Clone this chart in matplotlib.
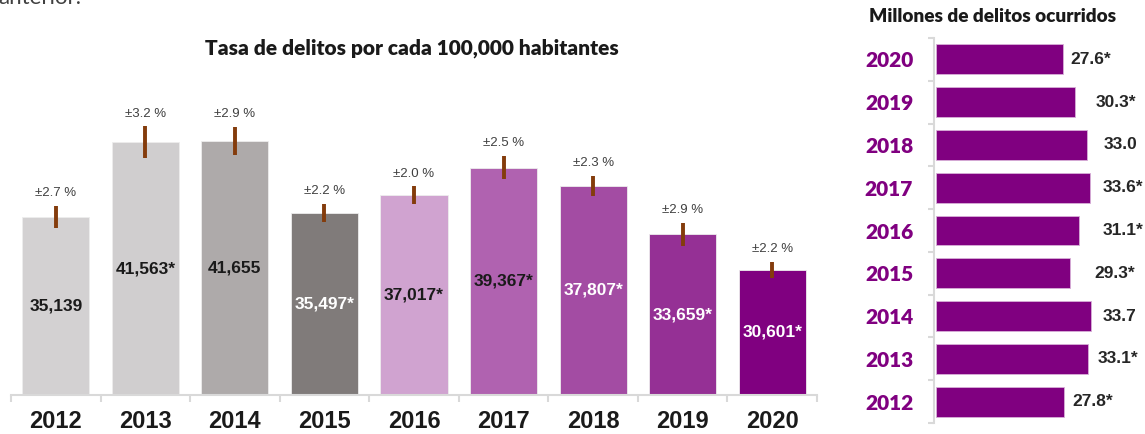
import matplotlib
matplotlib.use('Agg')
import matplotlib.pyplot as plt
import numpy as np

years = ['2012', '2013', '2014', '2015', '2016', '2017', '2018', '2019', '2020']
tasa = [35139, 41563, 41655, 35497, 37017, 39367, 37807, 33659, 30601]
tasa_labels = ['35,139', '41,563*', '41,655', '35,497*', '37,017*', '39,367*', '37,807*', '33,659*', '30,601*']
error_pct = [2.7, 3.2, 2.9, 2.2, 2.0, 2.5, 2.3, 2.9, 2.2]
millones = [27.8, 33.1, 33.7, 29.3, 31.1, 33.6, 33.0, 30.3, 27.6]
millones_labels = ['27.8*', '33.1*', '33.7', '29.3*', '31.1*', '33.6*', '33.0', '30.3*', '27.6*']

bar_colors = ['#D3D1D2', '#D0CECF', '#AEAAAA', '#807B7A', '#D0A3D0', '#B062B0', '#A34CA3', '#953095', '#800080']
text_colors = ['#1A1A1A', '#1A1A1A', '#1A1A1A', '#FFFFFF', '#1A1A1A', '#1A1A1A', '#FFFFFF', '#FFFFFF', '#FFFFFF']
label_pad_px = [9, 10, 12, 24, 24, 12, 16, 21, 8]

ARIAL = ['Liberation Sans', 'DejaVu Sans']
CAL = ['Lato', 'DejaVu Sans']

W, H = 1145, 434
fig = plt.figure(figsize=(W / 100, H / 100), dpi=100)


def fr(x0, y0, x1, y1):
    return [x0 / W, 1 - y1 / H, (x1 - x0) / W, (y1 - y0) / H]


# ---------- left chart ----------
ax = fig.add_axes(fr(11, 100, 817, 395))
px_per_unit = 0.011675
ymin = 19893
ax.set_ylim(ymin, ymin + 295 / px_per_unit)
ax.set_xlim(-0.5, 8.5)
x = np.arange(len(years))
ax.bar(x, tasa, width=0.75, color=bar_colors, edgecolor='#EDEDED', linewidth=0.6)
err = np.array(tasa) * np.array(error_pct) / 100
ax.errorbar(x, tasa, yerr=err, fmt='none', ecolor='#843C0C', elinewidth=2.8, capsize=0)
for xi, v, e, p, lbl, tc in zip(x, tasa, err, error_pct, tasa_labels, text_colors):
    ax.annotate(f'±{p:.1f} %', (xi, v + e), xytext=(0, 7), textcoords='offset points',
                ha='center', va='baseline', fontsize=9.5, color='#404040', family=ARIAL)
    ax.text(xi, (v + ymin) / 2, lbl, ha='center', va='center', fontsize=12.5,
            weight='bold', color=tc, family=ARIAL)

for s in ['top', 'right', 'left']:
    ax.spines[s].set_visible(False)
ax.spines['bottom'].set_color('#D9D9D9')
ax.spines['bottom'].set_linewidth(1.5)
ax.set_yticks([])
ax.set_xticks(x)
ax.set_xticklabels(years, fontsize=17, weight='bold', color='#1A1A1A', family=ARIAL)
ax.set_xticks(np.arange(-0.5, 9, 1), minor=True)
ax.tick_params(axis='x', which='major', length=0, pad=11)
ax.tick_params(axis='x', which='minor', length=5, width=1.5, color='#D9D9D9', direction='out')

# ---------- right chart ----------
ax2 = fig.add_axes(fr(934, 38, 1140, 423))
scale = 4.59
x0 = -2 / scale
ax2.set_xlim(x0, x0 + 206 / scale)
ax2.set_ylim(-0.5, 8.5)
yy = np.arange(len(years))
ax2.barh(yy, millones, height=0.7, color='#800080', edgecolor='#D8B0D8', linewidth=0.6)
for yi, v, lbl, pad in zip(yy, millones, millones_labels, label_pad_px):
    ax2.annotate(lbl, (v, yi), xytext=(pad * 0.72, 0), textcoords='offset points',
                 ha='left', va='center', fontsize=12.5, weight='bold', color='#262626',
                 family=ARIAL, annotation_clip=False)
for s in ['top', 'right', 'bottom']:
    ax2.spines[s].set_visible(False)
ax2.spines['left'].set_color('#D9D9D9')
ax2.spines['left'].set_linewidth(1.5)
ax2.set_xticks([])
ax2.set_yticks(yy)
ax2.set_yticklabels(years, fontsize=15, weight='heavy', color='#800080', family=CAL)
ax2.set_yticks(np.arange(-0.5, 9, 1), minor=True)
ax2.tick_params(axis='y', which='major', length=0, pad=15)
ax2.tick_params(axis='y', which='minor', length=4.5, width=1.5, color='#D9D9D9', direction='out')

# ---------- titles ----------
fig.text(411.5 / W, 1 - 48 / H, 'Tasa de delitos por cada 100,000 habitantes', ha='center',
         va='center', fontsize=15, weight='heavy', color='#1A1A1A', family=CAL)
fig.text(993 / W, 1 - 16 / H, 'Millones de delitos ocurridos', ha='center', va='center',
         fontsize=13.7, weight='heavy', color='#1A1A1A', family=CAL)
fig.text(-2 / W, 1 - 4.5 / H, 'anterior.', ha='left', va='baseline', fontsize=16,
         color='#404040', family=CAL)

fig.savefig('out.png', dpi=100)
